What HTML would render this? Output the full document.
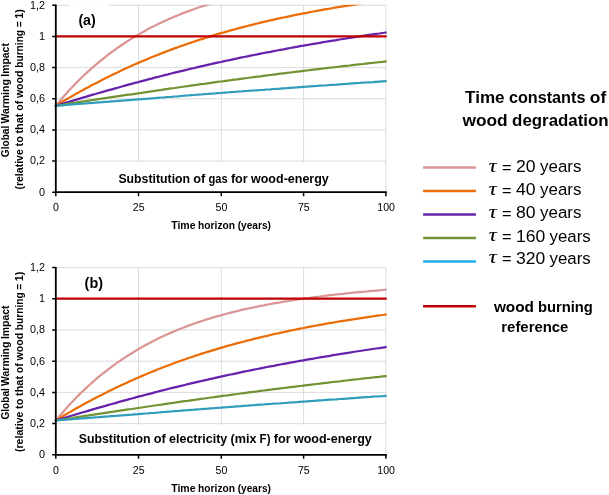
<!DOCTYPE html>
<html lang="en"><head><meta charset="utf-8"><title>Global Warming Impact</title>
<style>html,body{margin:0;padding:0;background:#fff}svg{display:block}text{font-family:"Liberation Sans",Arial,sans-serif;fill:#000}.b{font-weight:bold}.c{fill:none;stroke-width:2.25;stroke-linejoin:round;stroke-linecap:round}</style></head><body>
<svg width="609" height="495" viewBox="0 0 609 495">
<rect width="609" height="495" fill="#fff"/>
<g id="plot0">
<path d="M55.8 161.05H385.9M55.8 129.90H385.9M55.8 98.75H385.9M55.8 67.60H385.9M55.8 36.45H385.9M55.8 5.30H385.9M138.50 5.3V192.2M221.30 5.3V192.2M303.60 5.3V192.2M385.90 5.3V192.2" stroke="#d8d8db" stroke-width="0.9" fill="none"/>
<rect x="72" y="162.2" width="306" height="29.2" fill="#fff"/>
<clipPath id="cp0"><rect x="53.8" y="4.8" width="333.0" height="189.9"/></clipPath>
<g clip-path="url(#cp0)">
<polyline class="c" stroke="#d99694" points="55.8,105.8 59.1,101.8 62.4,98.0 65.7,94.2 69.0,90.5 72.3,87.0 75.6,83.6 78.9,80.3 82.2,77.0 85.5,73.9 88.8,70.9 92.1,67.9 95.4,65.1 98.7,62.3 102.0,59.6 105.3,57.0 108.6,54.4 111.9,52.0 115.2,49.6 118.5,47.2 121.8,45.0 125.1,42.8 128.4,40.6 131.7,38.6 135.0,36.5 138.3,34.6 141.6,32.7 144.9,30.9 148.2,29.1 151.5,27.3 154.8,25.7 158.1,24.0 161.4,22.5 164.7,20.9 168.0,19.4 171.3,18.0 174.6,16.6 177.9,15.2 181.2,13.9 184.5,12.6 187.8,11.4 191.1,10.1 194.4,9.0 197.7,7.8 201.0,6.7 204.3,5.6 207.6,4.6 210.9,3.6 214.2,2.6 217.5,1.6 220.9,0.7 224.2,-0.2 227.5,-1.1 230.8,-1.9 234.1,-2.8 237.4,-3.6 240.7,-4.3 244.0,-5.1 247.3,-5.9 250.6,-6.6 253.9,-7.3 257.2,-8.0 260.5,-8.6 263.8,-9.3 267.1,-9.9 270.4,-10.5 273.7,-11.1 277.0,-11.7 280.3,-12.3 283.6,-12.8 286.9,-13.4 290.2,-13.9 293.5,-14.4 296.8,-14.9 300.1,-15.4 303.4,-15.9 306.7,-16.3 310.0,-16.8 313.3,-17.2 316.6,-17.6 319.9,-18.1 323.2,-18.5 326.5,-18.9 329.8,-19.3 333.1,-19.7 336.4,-20.0 339.7,-20.4 343.0,-20.8 346.3,-21.1 349.6,-21.4 352.9,-21.8 356.2,-22.1 359.5,-22.4 362.8,-22.7 366.1,-23.0 369.4,-23.3 372.7,-23.6 376.0,-23.9 379.3,-24.2 382.6,-24.5 385.9,-24.8"/>
<polyline class="c" stroke="#ea6d06" points="55.8,105.8 59.1,103.8 62.4,101.8 65.7,99.8 69.0,97.9 72.3,96.0 75.6,94.1 78.9,92.3 82.2,90.4 85.5,88.6 88.8,86.9 92.1,85.1 95.4,83.4 98.7,81.7 102.0,80.0 105.3,78.3 108.6,76.7 111.9,75.1 115.2,73.5 118.5,71.9 121.8,70.3 125.1,68.8 128.4,67.3 131.7,65.8 135.0,64.3 138.3,62.9 141.6,61.5 144.9,60.1 148.2,58.7 151.5,57.3 154.8,56.0 158.1,54.7 161.4,53.4 164.7,52.1 168.0,50.8 171.3,49.6 174.6,48.4 177.9,47.2 181.2,46.0 184.5,44.9 187.8,43.7 191.1,42.6 194.4,41.5 197.7,40.4 201.0,39.3 204.3,38.3 207.6,37.2 210.9,36.2 214.2,35.2 217.5,34.2 220.9,33.2 224.2,32.3 227.5,31.3 230.8,30.4 234.1,29.5 237.4,28.6 240.7,27.7 244.0,26.9 247.3,26.0 250.6,25.2 253.9,24.3 257.2,23.5 260.5,22.7 263.8,21.9 267.1,21.2 270.4,20.4 273.7,19.7 277.0,18.9 280.3,18.2 283.6,17.5 286.9,16.8 290.2,16.1 293.5,15.4 296.8,14.7 300.1,14.1 303.4,13.4 306.7,12.8 310.0,12.1 313.3,11.5 316.6,10.9 319.9,10.3 323.2,9.7 326.5,9.1 329.8,8.6 333.1,8.0 336.4,7.4 339.7,6.9 343.0,6.3 346.3,5.8 349.6,5.3 352.9,4.8 356.2,4.3 359.5,3.8 362.8,3.3 366.1,2.8 369.4,2.3 372.7,1.8 376.0,1.3 379.3,0.9 382.6,0.4 385.9,-0.0"/>
<polyline class="c" stroke="#6622aa" points="55.8,105.8 59.1,104.8 62.4,103.8 65.7,102.8 69.0,101.8 72.3,100.8 75.6,99.8 78.9,98.8 82.2,97.8 85.5,96.9 88.8,95.9 92.1,94.9 95.4,94.0 98.7,93.0 102.0,92.1 105.3,91.2 108.6,90.2 111.9,89.3 115.2,88.4 118.5,87.5 121.8,86.5 125.1,85.6 128.4,84.7 131.7,83.8 135.0,82.9 138.3,82.1 141.6,81.2 144.9,80.3 148.2,79.4 151.5,78.6 154.8,77.7 158.1,76.9 161.4,76.0 164.7,75.2 168.0,74.4 171.3,73.5 174.6,72.7 177.9,71.9 181.2,71.1 184.5,70.3 187.8,69.5 191.1,68.7 194.4,68.0 197.7,67.2 201.0,66.4 204.3,65.7 207.6,64.9 210.9,64.2 214.2,63.4 217.5,62.7 220.9,62.0 224.2,61.2 227.5,60.5 230.8,59.8 234.1,59.1 237.4,58.4 240.7,57.7 244.0,57.0 247.3,56.4 250.6,55.7 253.9,55.0 257.2,54.4 260.5,53.7 263.8,53.0 267.1,52.4 270.4,51.8 273.7,51.1 277.0,50.5 280.3,49.9 283.6,49.3 286.9,48.6 290.2,48.0 293.5,47.4 296.8,46.8 300.1,46.2 303.4,45.7 306.7,45.1 310.0,44.5 313.3,43.9 316.6,43.4 319.9,42.8 323.2,42.2 326.5,41.7 329.8,41.1 333.1,40.6 336.4,40.1 339.7,39.5 343.0,39.0 346.3,38.5 349.6,37.9 352.9,37.4 356.2,36.9 359.5,36.4 362.8,35.9 366.1,35.4 369.4,34.9 372.7,34.4 376.0,33.9 379.3,33.5 382.6,33.0 385.9,32.5"/>
<polyline class="c" stroke="#729234" points="55.8,105.8 59.1,105.3 62.4,104.8 65.7,104.2 69.0,103.7 72.3,103.2 75.6,102.7 78.9,102.2 82.2,101.7 85.5,101.2 88.8,100.7 92.1,100.2 95.4,99.7 98.7,99.2 102.0,98.7 105.3,98.2 108.6,97.7 111.9,97.2 115.2,96.7 118.5,96.2 121.8,95.7 125.1,95.2 128.4,94.7 131.7,94.3 135.0,93.8 138.3,93.3 141.6,92.8 144.9,92.3 148.2,91.8 151.5,91.3 154.8,90.8 158.1,90.3 161.4,89.9 164.7,89.4 168.0,88.9 171.3,88.4 174.6,88.0 177.9,87.5 181.2,87.0 184.5,86.5 187.8,86.1 191.1,85.6 194.4,85.1 197.7,84.7 201.0,84.2 204.3,83.8 207.6,83.3 210.9,82.9 214.2,82.4 217.5,81.9 220.9,81.5 224.2,81.1 227.5,80.6 230.8,80.2 234.1,79.7 237.4,79.3 240.7,78.8 244.0,78.4 247.3,78.0 250.6,77.5 253.9,77.1 257.2,76.7 260.5,76.3 263.8,75.8 267.1,75.4 270.4,75.0 273.7,74.6 277.0,74.2 280.3,73.7 283.6,73.3 286.9,72.9 290.2,72.5 293.5,72.1 296.8,71.7 300.1,71.3 303.4,70.9 306.7,70.5 310.0,70.1 313.3,69.7 316.6,69.3 319.9,68.9 323.2,68.5 326.5,68.1 329.8,67.7 333.1,67.4 336.4,67.0 339.7,66.6 343.0,66.2 346.3,65.8 349.6,65.5 352.9,65.1 356.2,64.7 359.5,64.3 362.8,64.0 366.1,63.6 369.4,63.2 372.7,62.9 376.0,62.5 379.3,62.1 382.6,61.8 385.9,61.4"/>
<polyline class="c" stroke="#2f9dbb" points="55.8,105.8 59.1,105.5 62.4,105.3 65.7,105.0 69.0,104.7 72.3,104.5 75.6,104.2 78.9,104.0 82.2,103.7 85.5,103.5 88.8,103.2 92.1,103.0 95.4,102.7 98.7,102.4 102.0,102.2 105.3,101.9 108.6,101.7 111.9,101.4 115.2,101.2 118.5,100.9 121.8,100.6 125.1,100.4 128.4,100.1 131.7,99.9 135.0,99.6 138.3,99.3 141.6,99.1 144.9,98.8 148.2,98.6 151.5,98.3 154.8,98.1 158.1,97.8 161.4,97.5 164.7,97.3 168.0,97.0 171.3,96.8 174.6,96.5 177.9,96.3 181.2,96.0 184.5,95.7 187.8,95.5 191.1,95.2 194.4,95.0 197.7,94.7 201.0,94.5 204.3,94.2 207.6,94.0 210.9,93.7 214.2,93.5 217.5,93.2 220.9,93.0 224.2,92.7 227.5,92.5 230.8,92.2 234.1,92.0 237.4,91.7 240.7,91.5 244.0,91.2 247.3,91.0 250.6,90.7 253.9,90.5 257.2,90.3 260.5,90.0 263.8,89.8 267.1,89.5 270.4,89.3 273.7,89.0 277.0,88.8 280.3,88.6 283.6,88.3 286.9,88.1 290.2,87.8 293.5,87.6 296.8,87.4 300.1,87.1 303.4,86.9 306.7,86.7 310.0,86.4 313.3,86.2 316.6,86.0 319.9,85.7 323.2,85.5 326.5,85.3 329.8,85.0 333.1,84.8 336.4,84.6 339.7,84.3 343.0,84.1 346.3,83.9 349.6,83.6 352.9,83.4 356.2,83.2 359.5,83.0 362.8,82.7 366.1,82.5 369.4,82.3 372.7,82.1 376.0,81.8 379.3,81.6 382.6,81.4 385.9,81.2"/>
<path class="c" stroke="#c00000" stroke-width="2.7" d="M55.8 36.30H386.1"/>
</g>
<path d="M55.8 4.6V193.2M54.8 192.2H386.8" stroke="#000" stroke-width="1.8" fill="none"/>
<path d="M52.2 192.20H55.8M52.2 161.05H55.8M52.2 129.90H55.8M52.2 98.75H55.8M52.2 67.60H55.8M52.2 36.45H55.8M52.2 5.30H55.8M55.80 192.2V196.2M138.50 192.2V196.2M221.30 192.2V196.2M303.60 192.2V196.2M385.90 192.2V196.2" stroke="#000" stroke-width="1.5" fill="none"/>
<text class="tk" font-size="10.4" transform="translate(45.1 195.6) scale(1.04 1)" text-anchor="end">0</text>
<text class="tk" font-size="10.4" transform="translate(45.1 164.4) scale(1.04 1)" text-anchor="end">0,2</text>
<text class="tk" font-size="10.4" transform="translate(45.1 133.3) scale(1.04 1)" text-anchor="end">0,4</text>
<text class="tk" font-size="10.4" transform="translate(45.1 102.1) scale(1.04 1)" text-anchor="end">0,6</text>
<text class="tk" font-size="10.4" transform="translate(45.1 71.0) scale(1.04 1)" text-anchor="end">0,8</text>
<text class="tk" font-size="10.4" transform="translate(45.1 39.8) scale(1.04 1)" text-anchor="end">1</text>
<text class="tk" font-size="10.4" transform="translate(45.1 8.7) scale(1.04 1)" text-anchor="end">1,2</text>
<text class="tk" font-size="11.5" transform="translate(56.0 210.7) scale(0.92 1)" text-anchor="middle">0</text>
<text class="tk" font-size="11.5" transform="translate(138.7 210.7) scale(0.92 1)" text-anchor="middle">25</text>
<text class="tk" font-size="11.5" transform="translate(221.5 210.7) scale(0.92 1)" text-anchor="middle">50</text>
<text class="tk" font-size="11.5" transform="translate(303.8 210.7) scale(0.92 1)" text-anchor="middle">75</text>
<text class="tk" font-size="11.5" transform="translate(386.1 210.7) scale(0.92 1)" text-anchor="middle">100</text>
<rect x="69.5" y="4.3" width="39.5" height="3" fill="#fff"/>
<text class="b" x="78.4" y="25.0" font-size="13.9" textLength="17.3" lengthAdjust="spacingAndGlyphs">(a)</text>
<g transform="translate(0 183.1)"><text class="b" x="118.4" font-size="12.2" textLength="71.7" lengthAdjust="spacingAndGlyphs">Substitution</text><text class="b" x="193.3" font-size="12.2" textLength="12.1" lengthAdjust="spacingAndGlyphs">of</text><text class="b" x="208.6" font-size="12.2" textLength="19.1" lengthAdjust="spacingAndGlyphs">gas</text><text class="b" x="230.9" font-size="12.2" textLength="16.9" lengthAdjust="spacingAndGlyphs">for</text><text class="b" x="251.0" font-size="12.2" textLength="77.8" lengthAdjust="spacingAndGlyphs">wood-energy</text></g>
<g transform="translate(0 228.8)"><text class="b" x="171.2" font-size="10.5" textLength="24.3" lengthAdjust="spacingAndGlyphs">Time</text><text class="b" x="198.1" font-size="10.5" textLength="36.9" lengthAdjust="spacingAndGlyphs">horizon</text><text class="b" x="237.7" font-size="10.5" textLength="33.3" lengthAdjust="spacingAndGlyphs">(years)</text></g>
<g transform="translate(9.1 157.2) rotate(-90)"><text class="b" x="0.0" font-size="10.3" textLength="31.5" lengthAdjust="spacingAndGlyphs">Global</text><text class="b" x="33.7" font-size="10.3" textLength="44.3" lengthAdjust="spacingAndGlyphs">Warming</text><text class="b" x="80.5" font-size="10.3" textLength="33.6" lengthAdjust="spacingAndGlyphs">Impact</text></g>
<g transform="translate(22.8 189.6) rotate(-90)"><text class="b" x="0.0" font-size="10.4" textLength="40.4" lengthAdjust="spacingAndGlyphs">(relative</text><text class="b" x="43.1" font-size="10.4" textLength="10.3" lengthAdjust="spacingAndGlyphs">to</text><text class="b" x="56.0" font-size="10.4" textLength="20.1" lengthAdjust="spacingAndGlyphs">that</text><text class="b" x="78.8" font-size="10.4" textLength="10.0" lengthAdjust="spacingAndGlyphs">of</text><text class="b" x="91.5" font-size="10.4" textLength="27.6" lengthAdjust="spacingAndGlyphs">wood</text><text class="b" x="121.8" font-size="10.4" textLength="37.9" lengthAdjust="spacingAndGlyphs">burning</text><text class="b" x="162.3" font-size="10.4" textLength="5.9" lengthAdjust="spacingAndGlyphs">=</text><text class="b" x="170.8" font-size="10.4" textLength="9.6" lengthAdjust="spacingAndGlyphs">1)</text></g>
</g>
<g id="plot1">
<path d="M55.8 423.60H385.9M55.8 392.40H385.9M55.8 361.20H385.9M55.8 330.00H385.9M55.8 298.80H385.9M55.8 267.60H385.9M138.50 267.6V454.8M221.30 267.6V454.8M303.60 267.6V454.8M385.90 267.6V454.8" stroke="#d8d8db" stroke-width="0.9" fill="none"/>
<rect x="72" y="424.8" width="306" height="29.2" fill="#fff"/>
<clipPath id="cp1"><rect x="53.8" y="267.1" width="333.0" height="190.2"/></clipPath>
<g clip-path="url(#cp1)">
<polyline class="c" stroke="#d99694" points="55.8,420.5 59.1,416.6 62.4,412.7 65.7,408.9 69.0,405.2 72.3,401.7 75.6,398.3 78.9,394.9 82.2,391.7 85.5,388.6 88.8,385.5 92.1,382.6 95.4,379.7 98.7,376.9 102.0,374.2 105.3,371.6 108.6,369.1 111.9,366.6 115.2,364.2 118.5,361.9 121.8,359.6 125.1,357.4 128.4,355.2 131.7,353.2 135.0,351.2 138.3,349.2 141.6,347.3 144.9,345.5 148.2,343.7 151.5,341.9 154.8,340.3 158.1,338.6 161.4,337.0 164.7,335.5 168.0,334.0 171.3,332.6 174.6,331.2 177.9,329.8 181.2,328.5 184.5,327.2 187.8,325.9 191.1,324.7 194.4,323.5 197.7,322.4 201.0,321.3 204.3,320.2 207.6,319.2 210.9,318.1 214.2,317.2 217.5,316.2 220.9,315.3 224.2,314.4 227.5,313.5 230.8,312.6 234.1,311.8 237.4,311.0 240.7,310.2 244.0,309.4 247.3,308.7 250.6,308.0 253.9,307.3 257.2,306.6 260.5,305.9 263.8,305.3 267.1,304.6 270.4,304.0 273.7,303.4 277.0,302.8 280.3,302.3 283.6,301.7 286.9,301.2 290.2,300.6 293.5,300.1 296.8,299.6 300.1,299.1 303.4,298.7 306.7,298.2 310.0,297.8 313.3,297.3 316.6,296.9 319.9,296.5 323.2,296.0 326.5,295.6 329.8,295.2 333.1,294.9 336.4,294.5 339.7,294.1 343.0,293.8 346.3,293.4 349.6,293.1 352.9,292.7 356.2,292.4 359.5,292.1 362.8,291.8 366.1,291.5 369.4,291.2 372.7,290.9 376.0,290.6 379.3,290.3 382.6,290.0 385.9,289.7"/>
<polyline class="c" stroke="#ea6d06" points="55.8,420.5 59.1,418.5 62.4,416.5 65.7,414.5 69.0,412.6 72.3,410.7 75.6,408.8 78.9,407.0 82.2,405.1 85.5,403.3 88.8,401.5 92.1,399.8 95.4,398.1 98.7,396.3 102.0,394.7 105.3,393.0 108.6,391.3 111.9,389.7 115.2,388.1 118.5,386.5 121.8,385.0 125.1,383.5 128.4,381.9 131.7,380.5 135.0,379.0 138.3,377.5 141.6,376.1 144.9,374.7 148.2,373.3 151.5,372.0 154.8,370.6 158.1,369.3 161.4,368.0 164.7,366.7 168.0,365.5 171.3,364.2 174.6,363.0 177.9,361.8 181.2,360.6 184.5,359.5 187.8,358.3 191.1,357.2 194.4,356.1 197.7,355.0 201.0,353.9 204.3,352.9 207.6,351.8 210.9,350.8 214.2,349.8 217.5,348.8 220.9,347.8 224.2,346.9 227.5,345.9 230.8,345.0 234.1,344.1 237.4,343.2 240.7,342.3 244.0,341.5 247.3,340.6 250.6,339.8 253.9,338.9 257.2,338.1 260.5,337.3 263.8,336.5 267.1,335.8 270.4,335.0 273.7,334.2 277.0,333.5 280.3,332.8 283.6,332.1 286.9,331.4 290.2,330.7 293.5,330.0 296.8,329.3 300.1,328.6 303.4,328.0 306.7,327.3 310.0,326.7 313.3,326.1 316.6,325.5 319.9,324.9 323.2,324.3 326.5,323.7 329.8,323.1 333.1,322.6 336.4,322.0 339.7,321.4 343.0,320.9 346.3,320.4 349.6,319.8 352.9,319.3 356.2,318.8 359.5,318.3 362.8,317.8 366.1,317.3 369.4,316.8 372.7,316.4 376.0,315.9 379.3,315.4 382.6,315.0 385.9,314.5"/>
<polyline class="c" stroke="#6622aa" points="55.8,420.5 59.1,419.5 62.4,418.5 65.7,417.5 69.0,416.5 72.3,415.5 75.6,414.5 78.9,413.5 82.2,412.5 85.5,411.6 88.8,410.6 92.1,409.6 95.4,408.7 98.7,407.7 102.0,406.8 105.3,405.9 108.6,404.9 111.9,404.0 115.2,403.1 118.5,402.1 121.8,401.2 125.1,400.3 128.4,399.4 131.7,398.5 135.0,397.6 138.3,396.7 141.6,395.9 144.9,395.0 148.2,394.1 151.5,393.3 154.8,392.4 158.1,391.5 161.4,390.7 164.7,389.9 168.0,389.0 171.3,388.2 174.6,387.4 177.9,386.6 181.2,385.8 184.5,385.0 187.8,384.2 191.1,383.4 194.4,382.6 197.7,381.8 201.0,381.1 204.3,380.3 207.6,379.6 210.9,378.8 214.2,378.1 217.5,377.3 220.9,376.6 224.2,375.9 227.5,375.2 230.8,374.5 234.1,373.8 237.4,373.1 240.7,372.4 244.0,371.7 247.3,371.0 250.6,370.3 253.9,369.7 257.2,369.0 260.5,368.3 263.8,367.7 267.1,367.0 270.4,366.4 273.7,365.8 277.0,365.1 280.3,364.5 283.6,363.9 286.9,363.3 290.2,362.7 293.5,362.1 296.8,361.5 300.1,360.9 303.4,360.3 306.7,359.7 310.0,359.1 313.3,358.6 316.6,358.0 319.9,357.4 323.2,356.9 326.5,356.3 329.8,355.8 333.1,355.2 336.4,354.7 339.7,354.1 343.0,353.6 346.3,353.1 349.6,352.6 352.9,352.0 356.2,351.5 359.5,351.0 362.8,350.5 366.1,350.0 369.4,349.5 372.7,349.0 376.0,348.5 379.3,348.1 382.6,347.6 385.9,347.1"/>
<polyline class="c" stroke="#729234" points="55.8,420.5 59.1,420.0 62.4,419.5 65.7,419.0 69.0,418.5 72.3,418.0 75.6,417.4 78.9,416.9 82.2,416.4 85.5,415.9 88.8,415.4 92.1,414.9 95.4,414.4 98.7,413.9 102.0,413.4 105.3,412.9 108.6,412.4 111.9,411.9 115.2,411.4 118.5,410.9 121.8,410.4 125.1,409.9 128.4,409.4 131.7,409.0 135.0,408.5 138.3,408.0 141.6,407.5 144.9,407.0 148.2,406.5 151.5,406.0 154.8,405.5 158.1,405.0 161.4,404.6 164.7,404.1 168.0,403.6 171.3,403.1 174.6,402.7 177.9,402.2 181.2,401.7 184.5,401.2 187.8,400.8 191.1,400.3 194.4,399.8 197.7,399.4 201.0,398.9 204.3,398.5 207.6,398.0 210.9,397.5 214.2,397.1 217.5,396.6 220.9,396.2 224.2,395.7 227.5,395.3 230.8,394.8 234.1,394.4 237.4,394.0 240.7,393.5 244.0,393.1 247.3,392.7 250.6,392.2 253.9,391.8 257.2,391.4 260.5,390.9 263.8,390.5 267.1,390.1 270.4,389.7 273.7,389.2 277.0,388.8 280.3,388.4 283.6,388.0 286.9,387.6 290.2,387.2 293.5,386.8 296.8,386.4 300.1,386.0 303.4,385.6 306.7,385.2 310.0,384.8 313.3,384.4 316.6,384.0 319.9,383.6 323.2,383.2 326.5,382.8 329.8,382.4 333.1,382.0 336.4,381.6 339.7,381.3 343.0,380.9 346.3,380.5 349.6,380.1 352.9,379.7 356.2,379.4 359.5,379.0 362.8,378.6 366.1,378.2 369.4,377.9 372.7,377.5 376.0,377.1 379.3,376.8 382.6,376.4 385.9,376.1"/>
<polyline class="c" stroke="#2f9dbb" points="55.8,420.5 59.1,420.2 62.4,420.0 65.7,419.7 69.0,419.5 72.3,419.2 75.6,419.0 78.9,418.7 82.2,418.4 85.5,418.2 88.8,417.9 92.1,417.7 95.4,417.4 98.7,417.2 102.0,416.9 105.3,416.6 108.6,416.4 111.9,416.1 115.2,415.9 118.5,415.6 121.8,415.4 125.1,415.1 128.4,414.8 131.7,414.6 135.0,414.3 138.3,414.1 141.6,413.8 144.9,413.5 148.2,413.3 151.5,413.0 154.8,412.8 158.1,412.5 161.4,412.2 164.7,412.0 168.0,411.7 171.3,411.5 174.6,411.2 177.9,411.0 181.2,410.7 184.5,410.4 187.8,410.2 191.1,409.9 194.4,409.7 197.7,409.4 201.0,409.2 204.3,408.9 207.6,408.7 210.9,408.4 214.2,408.2 217.5,407.9 220.9,407.7 224.2,407.4 227.5,407.2 230.8,406.9 234.1,406.7 237.4,406.4 240.7,406.2 244.0,405.9 247.3,405.7 250.6,405.4 253.9,405.2 257.2,404.9 260.5,404.7 263.8,404.5 267.1,404.2 270.4,404.0 273.7,403.7 277.0,403.5 280.3,403.3 283.6,403.0 286.9,402.8 290.2,402.5 293.5,402.3 296.8,402.1 300.1,401.8 303.4,401.6 306.7,401.4 310.0,401.1 313.3,400.9 316.6,400.6 319.9,400.4 323.2,400.2 326.5,399.9 329.8,399.7 333.1,399.5 336.4,399.3 339.7,399.0 343.0,398.8 346.3,398.6 349.6,398.3 352.9,398.1 356.2,397.9 359.5,397.6 362.8,397.4 366.1,397.2 369.4,397.0 372.7,396.7 376.0,396.5 379.3,396.3 382.6,396.1 385.9,395.8"/>
<path class="c" stroke="#c00000" stroke-width="2.7" d="M55.8 298.65H386.1"/>
</g>
<path d="M55.8 266.9V455.8M54.8 454.8H386.8" stroke="#000" stroke-width="1.8" fill="none"/>
<path d="M52.2 454.80H55.8M52.2 423.60H55.8M52.2 392.40H55.8M52.2 361.20H55.8M52.2 330.00H55.8M52.2 298.80H55.8M52.2 267.60H55.8M55.80 454.8V458.8M138.50 454.8V458.8M221.30 454.8V458.8M303.60 454.8V458.8M385.90 454.8V458.8" stroke="#000" stroke-width="1.5" fill="none"/>
<text class="tk" font-size="10.4" transform="translate(45.1 458.2) scale(1.04 1)" text-anchor="end">0</text>
<text class="tk" font-size="10.4" transform="translate(45.1 427.0) scale(1.04 1)" text-anchor="end">0,2</text>
<text class="tk" font-size="10.4" transform="translate(45.1 395.8) scale(1.04 1)" text-anchor="end">0,4</text>
<text class="tk" font-size="10.4" transform="translate(45.1 364.6) scale(1.04 1)" text-anchor="end">0,6</text>
<text class="tk" font-size="10.4" transform="translate(45.1 333.4) scale(1.04 1)" text-anchor="end">0,8</text>
<text class="tk" font-size="10.4" transform="translate(45.1 302.2) scale(1.04 1)" text-anchor="end">1</text>
<text class="tk" font-size="10.4" transform="translate(45.1 271.0) scale(1.04 1)" text-anchor="end">1,2</text>
<text class="tk" font-size="11.5" transform="translate(56.0 474.1) scale(0.92 1)" text-anchor="middle">0</text>
<text class="tk" font-size="11.5" transform="translate(138.7 474.1) scale(0.92 1)" text-anchor="middle">25</text>
<text class="tk" font-size="11.5" transform="translate(221.5 474.1) scale(0.92 1)" text-anchor="middle">50</text>
<text class="tk" font-size="11.5" transform="translate(303.8 474.1) scale(0.92 1)" text-anchor="middle">75</text>
<text class="tk" font-size="11.5" transform="translate(386.1 474.1) scale(0.92 1)" text-anchor="middle">100</text>
<text class="b" x="84.6" y="287.6" font-size="13.9" textLength="18.4" lengthAdjust="spacingAndGlyphs">(b)</text>
<g transform="translate(0 443.2)"><text class="b" x="78.8" font-size="12.2" textLength="71.7" lengthAdjust="spacingAndGlyphs">Substitution</text><text class="b" x="153.7" font-size="12.2" textLength="12.1" lengthAdjust="spacingAndGlyphs">of</text><text class="b" x="169.1" font-size="12.2" textLength="58.2" lengthAdjust="spacingAndGlyphs">electricity</text><text class="b" x="230.5" font-size="12.2" textLength="26.0" lengthAdjust="spacingAndGlyphs">(mix</text><text class="b" x="259.6" font-size="12.2" textLength="10.9" lengthAdjust="spacingAndGlyphs">F)</text><text class="b" x="273.8" font-size="12.2" textLength="16.9" lengthAdjust="spacingAndGlyphs">for</text><text class="b" x="293.9" font-size="12.2" textLength="77.9" lengthAdjust="spacingAndGlyphs">wood-energy</text></g>
<g transform="translate(0 491.6)"><text class="b" x="171.2" font-size="10.5" textLength="24.3" lengthAdjust="spacingAndGlyphs">Time</text><text class="b" x="198.1" font-size="10.5" textLength="36.9" lengthAdjust="spacingAndGlyphs">horizon</text><text class="b" x="237.7" font-size="10.5" textLength="33.3" lengthAdjust="spacingAndGlyphs">(years)</text></g>
<g transform="translate(9.1 419.6) rotate(-90)"><text class="b" x="0.0" font-size="10.3" textLength="31.5" lengthAdjust="spacingAndGlyphs">Global</text><text class="b" x="33.7" font-size="10.3" textLength="44.3" lengthAdjust="spacingAndGlyphs">Warming</text><text class="b" x="80.5" font-size="10.3" textLength="33.6" lengthAdjust="spacingAndGlyphs">Impact</text></g>
<g transform="translate(22.8 452.0) rotate(-90)"><text class="b" x="0.0" font-size="10.4" textLength="40.4" lengthAdjust="spacingAndGlyphs">(relative</text><text class="b" x="43.1" font-size="10.4" textLength="10.3" lengthAdjust="spacingAndGlyphs">to</text><text class="b" x="56.0" font-size="10.4" textLength="20.1" lengthAdjust="spacingAndGlyphs">that</text><text class="b" x="78.8" font-size="10.4" textLength="10.0" lengthAdjust="spacingAndGlyphs">of</text><text class="b" x="91.5" font-size="10.4" textLength="27.6" lengthAdjust="spacingAndGlyphs">wood</text><text class="b" x="121.8" font-size="10.4" textLength="37.9" lengthAdjust="spacingAndGlyphs">burning</text><text class="b" x="162.3" font-size="10.4" textLength="5.9" lengthAdjust="spacingAndGlyphs">=</text><text class="b" x="170.8" font-size="10.4" textLength="9.6" lengthAdjust="spacingAndGlyphs">1)</text></g>
</g>
<g id="legend">
<g transform="translate(0 103.2)"><text class="b" x="465.0" font-size="16.6" textLength="39.6" lengthAdjust="spacingAndGlyphs">Time</text><text class="b" x="508.9" font-size="16.6" textLength="76.5" lengthAdjust="spacingAndGlyphs">constants</text><text class="b" x="589.8" font-size="16.6" textLength="16.4" lengthAdjust="spacingAndGlyphs">of</text></g>
<g transform="translate(0 125.9)"><text class="b" x="462.5" font-size="16.9" textLength="45.2" lengthAdjust="spacingAndGlyphs">wood</text><text class="b" x="512.1" font-size="16.9" textLength="96.6" lengthAdjust="spacingAndGlyphs">degradation</text></g>
<path d="M423.1 167.6H475.9" stroke="#d99694" stroke-width="2.5" fill="none"/>
<text transform="translate(488.8 172.1) scale(1.16 1)" font-size="19" stroke="#000" stroke-width="0.12" style="font-family:'Liberation Serif','DejaVu Serif',serif;font-style:italic">τ</text>
<g transform="translate(0 172.3)"><text x="502.0" y="0.4" font-size="16.9" textLength="9.6" lengthAdjust="spacingAndGlyphs">=</text><text x="516.0" font-size="16.9" textLength="19.6" lengthAdjust="spacingAndGlyphs">20</text><text x="540.0" font-size="16.9" textLength="41.4" lengthAdjust="spacingAndGlyphs">years</text></g>
<path d="M423.1 190.9H475.9" stroke="#ea6d06" stroke-width="2.5" fill="none"/>
<text transform="translate(488.8 195.2) scale(1.16 1)" font-size="19" stroke="#000" stroke-width="0.12" style="font-family:'Liberation Serif','DejaVu Serif',serif;font-style:italic">τ</text>
<g transform="translate(0 195.4)"><text x="502.0" y="0.4" font-size="16.9" textLength="9.6" lengthAdjust="spacingAndGlyphs">=</text><text x="516.0" font-size="16.9" textLength="19.6" lengthAdjust="spacingAndGlyphs">40</text><text x="540.0" font-size="16.9" textLength="41.4" lengthAdjust="spacingAndGlyphs">years</text></g>
<path d="M423.1 214.5H475.9" stroke="#6622aa" stroke-width="2.5" fill="none"/>
<text transform="translate(488.8 218.2) scale(1.16 1)" font-size="19" stroke="#000" stroke-width="0.12" style="font-family:'Liberation Serif','DejaVu Serif',serif;font-style:italic">τ</text>
<g transform="translate(0 218.4)"><text x="502.0" y="0.4" font-size="16.9" textLength="9.6" lengthAdjust="spacingAndGlyphs">=</text><text x="516.0" font-size="16.9" textLength="19.6" lengthAdjust="spacingAndGlyphs">80</text><text x="540.0" font-size="16.9" textLength="41.4" lengthAdjust="spacingAndGlyphs">years</text></g>
<path d="M423.1 238.0H475.9" stroke="#729234" stroke-width="2.5" fill="none"/>
<text transform="translate(488.8 241.4) scale(1.16 1)" font-size="19" stroke="#000" stroke-width="0.12" style="font-family:'Liberation Serif','DejaVu Serif',serif;font-style:italic">τ</text>
<g transform="translate(0 241.6)"><text x="502.0" y="0.4" font-size="16.9" textLength="9.6" lengthAdjust="spacingAndGlyphs">=</text><text x="515.9" font-size="16.9" textLength="29.3" lengthAdjust="spacingAndGlyphs">160</text><text x="549.5" font-size="16.9" textLength="41.2" lengthAdjust="spacingAndGlyphs">years</text></g>
<path d="M423.1 261.4H475.9" stroke="#1cb0ee" stroke-width="2.5" fill="none"/>
<text transform="translate(488.8 263.3) scale(1.16 1)" font-size="19" stroke="#000" stroke-width="0.12" style="font-family:'Liberation Serif','DejaVu Serif',serif;font-style:italic">τ</text>
<g transform="translate(0 263.5)"><text x="502.0" y="0.4" font-size="16.9" textLength="9.6" lengthAdjust="spacingAndGlyphs">=</text><text x="515.9" font-size="16.9" textLength="29.3" lengthAdjust="spacingAndGlyphs">320</text><text x="549.5" font-size="16.9" textLength="41.2" lengthAdjust="spacingAndGlyphs">years</text></g>
<path d="M423.1 306.3H475.9" stroke="#c00000" stroke-width="2.6" fill="none"/>
<g transform="translate(0 311.9)"><text class="b" x="493.9" font-size="15" textLength="40.1" lengthAdjust="spacingAndGlyphs">wood</text><text class="b" x="537.9" font-size="15" textLength="55.0" lengthAdjust="spacingAndGlyphs">burning</text></g>
<text class="b" x="501.3" y="332.1" font-size="14.9" textLength="67.1" lengthAdjust="spacingAndGlyphs">reference</text>
</g>
</svg></body></html>
